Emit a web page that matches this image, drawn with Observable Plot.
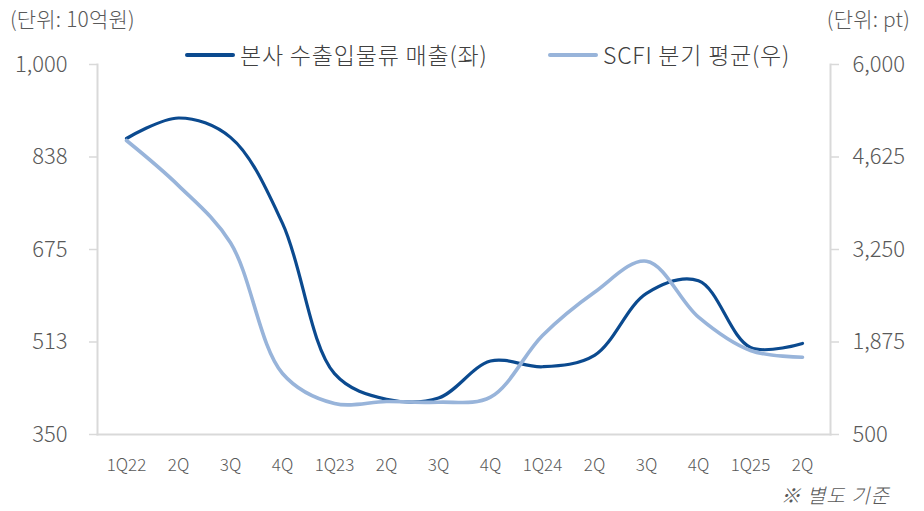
<!DOCTYPE html>
<html>
<head>
<meta charset="utf-8">
<script src="https://cdn.jsdelivr.net/npm/d3@7"></script>
<script src="https://cdn.jsdelivr.net/npm/@observablehq/plot@0.6"></script>
<style>
  html, body { margin: 0; padding: 0; background: #fff; }
  #wrap { position: relative; width: 924px; height: 511px; font-family: "Noto Sans CJK KR", "Noto Sans", sans-serif; color: #595959; font-weight: 300; }
  .abs { position: absolute; white-space: nowrap; line-height: 1; }
  .unit { font-size: 21px; top: 8px; letter-spacing: 0.2px; }
  .leg { top: 43px; font-size: 23px; letter-spacing: 0.8px; display: flex; align-items: center; color: #404040; }
  .sw { display: inline-block; width: 50px; height: 4px; border-radius: 2px; margin-right: 5px; }
  .cap { font-size: 20px; font-style: italic; right: 34px; top: 485px; letter-spacing: 1px; }
  svg { position: absolute; left: 0; top: 0; }
</style>
</head>
<body>
<div id="wrap"></div>
<script>
const quarters = ["1Q22","2Q","3Q","4Q","1Q23","2Q","3Q","4Q","1Q24","2Q","3Q","4Q","1Q25","2Q"];
const sales = [870, 906, 872, 721, 457, 412, 414, 479, 469, 489, 598, 620, 503, 510];
const scfi = [4870, 4200, 3350, 1407, 961, 990, 980, 1055, 1972, 2615, 3076, 2244, 1749, 1649];
const leftTicks = [350, 512.5, 675, 837.5, 1000];
const rightTicks = [500, 1875, 3250, 4625, 6000];
const seriesNames = ["본사 수출입물류 매출(좌)", "SCFI 분기 평균(우)"];
const colors = ["#0b4a8f", "#98b4da"];

const L0 = 350, L1 = 1000, R0 = 500, R1 = 6000;
const toLeft = v => L0 + (v - R0) * (L1 - L0) / (R1 - R0);
const toRight = v => R0 + (v - L0) * (R1 - R0) / (L1 - L0);

const idx = quarters.map((_, i) => i);
const salesData = idx.map(i => ({x: i, y: sales[i]}));
const scfiData = idx.map(i => ({x: i, y: toLeft(scfi[i])}));

const grey = "#d9d9d9";
const chart = Plot.plot({
  width: 924,
  height: 511,
  marginLeft: 97,
  marginRight: 94,
  marginTop: 64,
  marginBottom: 77,
  style: {fontFamily: '"Noto Sans CJK KR", "Noto Sans", sans-serif', fontSize: "20px", color: "#595959", background: "transparent", fontWeight: 300},
  x: {type: "point", domain: idx, padding: 0.5, label: null},
  y: {domain: [L0, L1], label: null},
  marks: [
    Plot.axisX({ticks: idx, tickSize: 0, tickPadding: 24, tickFormat: i => quarters[i], fontSize: 17, stroke: "none", letterSpacing: "-1.2px", label: null}),
    Plot.axisY({anchor: "left", ticks: leftTicks, tickSize: 8, tickPadding: 22, stroke: grey, strokeWidth: 1.5, tickFormat: d3.format(",.0f"), fontSize: 22, label: null}),
    Plot.axisY({anchor: "right", ticks: rightTicks.map(toLeft), tickSize: 8, tickPadding: 14, stroke: grey, strokeWidth: 1.5, tickFormat: v => d3.format(",.0f")(toRight(v)), fontSize: 22, label: null}),
    Plot.frame({anchor: "left", stroke: grey, strokeWidth: 2}),
    Plot.frame({anchor: "right", stroke: grey, strokeWidth: 2}),
    Plot.frame({anchor: "bottom", stroke: grey, strokeWidth: 2}),
    Plot.line(salesData, {x: "x", y: "y", stroke: colors[0], strokeWidth: 3.2, curve: "catmull-rom"}),
    Plot.line(scfiData, {x: "x", y: "y", stroke: colors[1], strokeWidth: 3.6, curve: "catmull-rom"})
  ]
});

const wrap = document.getElementById("wrap");
wrap.appendChild(chart);

function addDiv(cls, html, style) {
  const d = document.createElement("div");
  d.className = "abs " + cls;
  d.innerHTML = html;
  Object.assign(d.style, style || {});
  wrap.appendChild(d);
  return d;
}
addDiv("unit", "(단위: 10억원)", {left: "10px"});
addDiv("unit", "(단위: pt)", {right: "14px"});
addDiv("leg", `<span class="sw" style="background:${colors[0]}"></span>${seriesNames[0]}`, {left: "185px"});
addDiv("leg", `<span class="sw" style="background:${colors[1]}"></span>${seriesNames[1]}`, {left: "548px"});
addDiv("cap", "※ 별도 기준");
</script>
</body>
</html>
